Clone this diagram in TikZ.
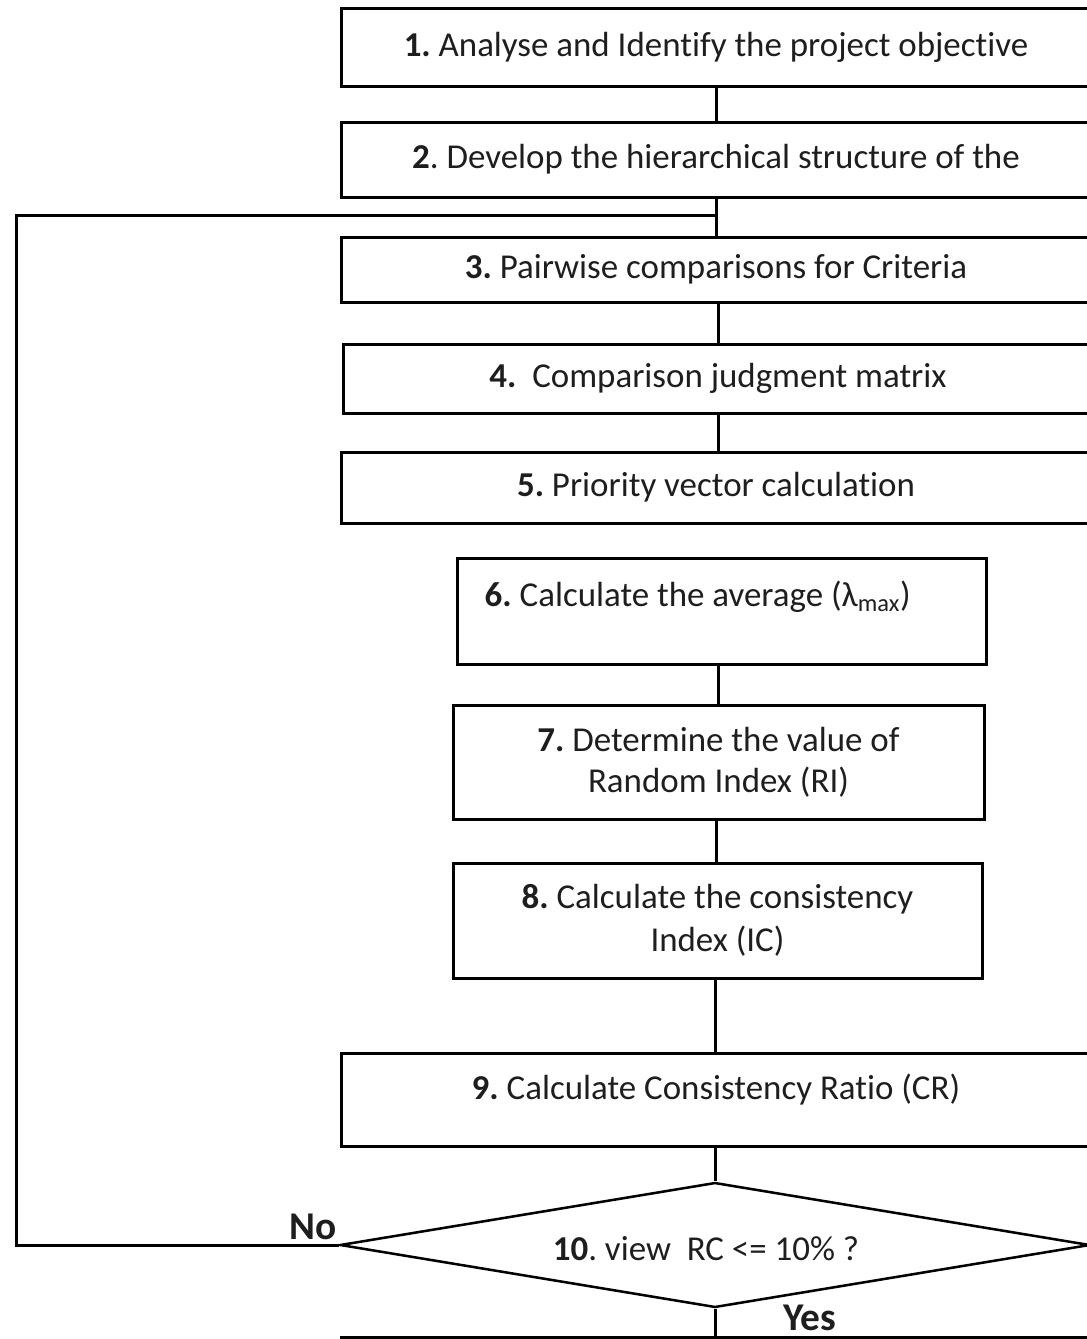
\documentclass[tikz,border=0pt]{standalone}
\usepackage{fontspec}
\setmainfont{Carlito}[Ligatures={NoCommon}]
\usetikzlibrary{shapes.geometric}
\frenchspacing
\definecolor{ink}{HTML}{1E1E1E}
\begin{document}
\begin{tikzpicture}[x=0.75pt,y=-0.75pt,
  every node/.style={font=\fontsize{26.2}{30.75}\selectfont, text=ink},
  stepbox/.style={draw=black, rectangle, line width=2.25pt, inner sep=0pt, align=center},
  widebox/.style={stepbox, minimum width=562.5pt},
  narrowbox/.style={stepbox, minimum width=397.5pt},
  decision/.style={draw=black, diamond, line width=1.9pt, inner sep=0pt, aspect=6,
    minimum width=562.5pt, minimum height=93.75pt},
  link/.style={line width=2.25pt},
  tag/.style={font=\fontsize{29.5}{32}\selectfont\bfseries, inner sep=0pt},
]
\useasboundingbox (0,0) rectangle (1087,1339);
\clip (0,0) rectangle (1087,1339);

% process steps
\node[widebox, minimum height=58.5pt] (b1) at (716,47)
  {\textbf{1.} Analyse and Identify the project objective};
\node[widebox, minimum height=56.25pt] (b2) at (716,159.5)
  {\textbf{2}. Develop the hierarchical structure of the};
\node[widebox, minimum height=48.75pt] (b3) at (716,269.5)
  {\textbf{3.} Pairwise comparisons for Criteria};
\node[widebox, minimum height=51.75pt] (b4) at (718,378.5)
  {\textbf{4.}~~Comparison judgment matrix};
\node[widebox, minimum height=53.25pt] (b5) at (716,487.5)
  {\textbf{5.} Priority vector calculation};
\node[narrowbox, minimum width=396.75pt, minimum height=79.5pt] (b6) at (721.5,611) {};
\node[anchor=west] (t6) at (480,597)
  {\textbf{6.} Calculate the average (λ\textsubscript{max})};
\node[narrowbox, minimum width=398.25pt, minimum height=85.5pt] (b7) at (718.5,762)
  {\textbf{7.} Determine the value of\\ Random Index (RI)};
\node[narrowbox, minimum width=396.75pt, minimum height=86.25pt] (b8) at (717.5,920.5)
  {\textbf{8.} Calculate the consistency\\[1.5pt] Index (IC)};
\node[widebox, minimum height=69.75pt] (b9) at (716,1099.5) {};
\node (t9) at (716,1090) {\textbf{9.} Calculate Consistency Ratio (CR)};
\node[decision] (d) at (715,1245) {};
\node (t10) at (706,1249) {\textbf{10}. view~~RC <= 10\% ?};
\node[widebox, minimum height=60pt, anchor=north] (b11) at (716,1336) {};

% branch labels
\node[tag] (no) at (313,1227) {No};
\node[tag] (yes) at (810,1318) {Yes};

% connectors
\coordinate (fb) at (716,215);
\coordinate (lc) at (16,1245);
\draw[link] (b1.south) -- (b2.north);
\draw[link] (b2.south) -- (b3.north);
\draw[link] (b3.south -| b4.north) -- (b4.north);
\draw[link] (b4.south) -- (b4.south |- b5.north);
\draw[link] (b6.north -| b4.south) -- (b6.north -| b4.south |- b5.south);
\draw[link] (b7.north -| b4.south) -- (b6.south -| b4.south);
\draw[link] (b7.south -| b1.south) -- (b8.north -| b1.south);
\draw[link] (b8.south -| d.north) -- (b9.north -| d.north);
\draw[link] (b9.south -| d.north) -- (d.north);
\draw[link] (d.south) -- (d.south |- b11.north);
\draw[link] (d.west) -- (lc) |- (fb);
\end{tikzpicture}
\end{document}
